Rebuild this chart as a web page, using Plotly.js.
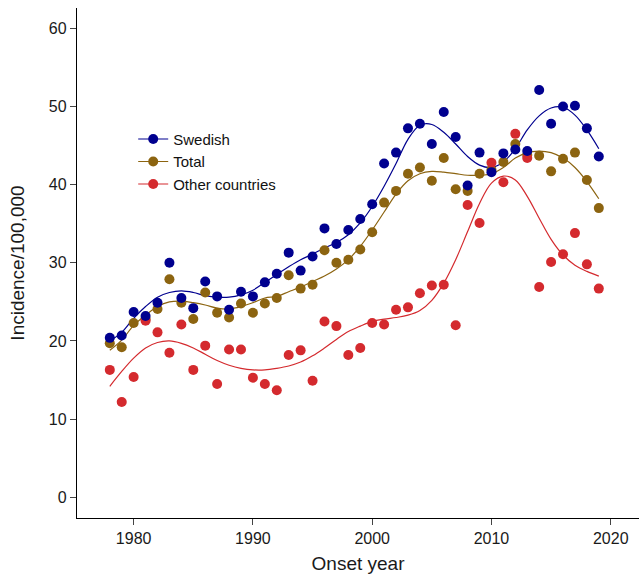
<!DOCTYPE html>
<html>
<head>
<meta charset="utf-8">
<script src="https://cdn.plot.ly/plotly-3.0.1.min.js"></script>
<style>html,body{margin:0;padding:0;background:#fff;}#chart{width:639px;height:575px;}</style>
</head>
<body>
<div id="chart"></div>
<script>
var years = [1978,1979,1980,1981,1982,1983,1984,1985,1986,1987,1988,1989,1990,1991,1992,1993,1994,1995,1996,1997,1998,1999,2000,2001,2002,2003,2004,2005,2006,2007,2008,2009,2010,2011,2012,2013,2014,2015,2016,2017,2018,2019];

var swedish = [20.4,20.7,23.7,23.2,24.9,30.0,25.5,24.2,27.6,25.7,24.0,26.3,25.7,27.5,28.6,31.3,29.0,30.8,34.4,32.4,34.2,35.6,37.5,42.7,44.1,47.2,47.8,45.2,49.3,46.1,39.9,44.1,41.6,44.0,44.5,44.3,52.1,47.8,50.0,50.1,47.2,43.6];
var total = [19.7,19.2,22.3,22.8,24.1,27.9,24.9,22.8,26.2,23.6,23.0,24.8,23.6,24.8,25.5,28.4,26.7,27.2,31.6,30.0,30.4,31.7,33.9,37.7,39.2,41.4,42.2,40.5,43.4,39.4,39.2,41.4,41.9,42.9,45.2,43.8,43.7,41.7,43.3,44.1,40.6,37.0];
var other = [16.3,12.2,15.4,22.6,21.1,18.5,22.1,16.3,19.4,14.5,18.9,18.9,15.3,14.5,13.7,18.2,18.8,14.9,22.5,21.9,18.2,19.1,22.3,22.1,24.0,24.3,26.1,27.1,27.2,22.0,37.4,35.1,42.8,40.3,46.5,43.4,26.9,30.1,31.1,33.8,29.8,26.7];

var swedishFit = [20.0,21.1,22.9,24.4,25.6,26.2,26.4,26.2,25.8,25.6,25.6,25.9,26.5,27.5,28.5,29.5,30.4,31.1,31.9,32.6,33.6,35.1,37.2,39.8,42.7,45.8,47.6,47.7,46.7,45.2,43.6,42.5,42.2,42.9,44.6,47.0,48.8,49.8,49.9,48.9,47.0,44.6];
var totalFit = [18.8,20.1,22.0,23.3,24.4,25.0,25.1,24.9,24.6,24.2,24.1,24.4,24.9,25.5,25.7,26.3,26.9,27.6,28.3,29.2,30.4,32.1,34.2,36.5,38.8,40.5,41.4,41.7,41.6,41.4,41.2,41.2,41.4,42.2,43.4,44.1,44.3,44.1,43.4,42.2,40.4,38.2];
var otherFit = [14.2,16.1,17.8,19.1,19.8,20.0,19.7,19.1,18.3,17.5,16.9,16.5,16.3,16.3,16.5,16.8,17.3,18.1,19.1,20.2,21.2,21.9,22.5,22.8,23.0,23.3,23.9,25.2,27.4,30.4,34.0,37.6,40.2,41.1,40.6,38.5,35.7,33.0,31.0,29.7,28.9,28.3];

var seriesNames = ['Swedish','Total','Other countries'];
var xTicks = [1980,1990,2000,2010,2020];
var yTicks = [0,10,20,30,40,50,60];

var cBlue = '#00008f', cBrown = '#8c6410', cRed = '#d42a2e';

function pts(y, c){ return {x: years, y: y, mode:'markers', type:'scatter', marker:{color:c, size:10}, showlegend:false, hoverinfo:'skip'}; }
function fit(y, c){ return {x: years, y: y, mode:'lines', type:'scatter', line:{color:c, width:1.2, shape:'spline', smoothing:1}, showlegend:false, hoverinfo:'skip'}; }
function leg(name, c){ return {x:[null], y:[null], name:name, mode:'lines+markers', type:'scatter', marker:{color:c, size:10}, line:{color:c, width:1.2}}; }

var data = [
  fit(totalFit, cBrown), fit(otherFit, cRed), fit(swedishFit, cBlue),
  pts(total, cBrown), pts(other, cRed), pts(swedish, cBlue),
  leg(seriesNames[0], cBlue), leg(seriesNames[1], cBrown), leg(seriesNames[2], cRed)
];

var font = 'Liberation Sans, Arial, sans-serif';
var layout = {
  width: 639, height: 575,
  margin: {l:77, r:0, t:8, b:57},
  paper_bgcolor:'#fff', plot_bgcolor:'#fff',
  font: {family: font, color:'#1a1a1a'},
  showlegend: true,
  legend: {x:0.1, y:0.775, xanchor:'left', yanchor:'top', bgcolor:'rgba(0,0,0,0)', font:{size:15, family:font, color:'#111'}, tracegroupgap:0, itemwidth:30},
  xaxis: {range:[1975.25, 2022.37], tickvals: xTicks, ticktext: xTicks.map(String), ticks:'outside', ticklen:6, tickcolor:'#444', tickwidth:1,
          showline:true, linecolor:'#000', linewidth:1.2, showgrid:false, zeroline:false, tickfont:{size:16},
          title:{text:'Onset year', font:{size:19}, standoff:10}},
  yaxis: {range:[-2.65, 62.6], tickvals: yTicks, ticks:'outside', ticklen:6, tickcolor:'#444', tickwidth:1,
          showline:true, linecolor:'#000', linewidth:1.2, showgrid:false, zeroline:false, tickfont:{size:16},
          title:{text:'Incidence/100,000', font:{size:19}, standoff:19}}
};
Plotly.newPlot('chart', data, layout, {staticPlot:true, displayModeBar:false});
</script>
</body>
</html>
